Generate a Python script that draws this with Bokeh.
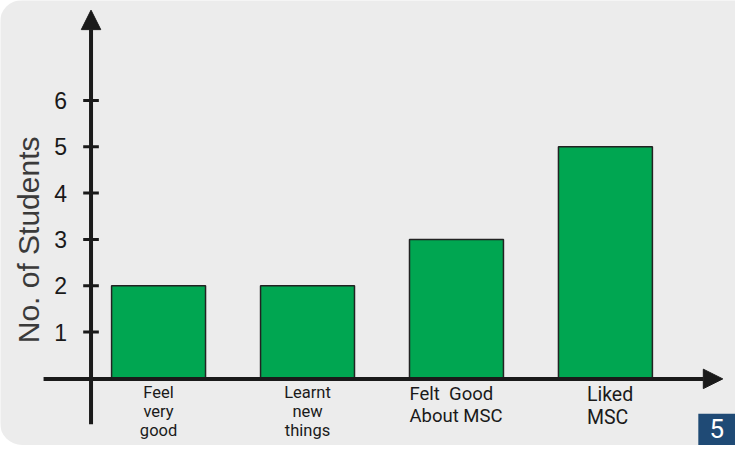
from math import pi
from bokeh.plotting import figure
from bokeh.models import Range1d, Arrow, NormalHead, BoxAnnotation, Label
from bokeh.embed import file_html
from bokeh.resources import INLINE
from bokeh.core.properties import value

# ---- data ----
categories = ["Feel\nvery\ngood", "Learnt\nnew\nthings", "Felt\u00a0\u00a0Good\nAbout MSC", "Liked\nMSC"]
students = [2, 2, 3, 5]
y_ticks = [1, 2, 3, 4, 5, 6]
y_tick_labels = ["1", "2", "3", "4", "5", "6"]
y_title = "No. of Students"
page_number = "5"

# ---- layout ----
W, H = 735, 445          # figure size
RW, RH = 751, 461        # design canvas
S = 0.973                # screen scale for px sizes
STEP = 152.2             # design px per category step
UNIT = 48.0              # design px per student
X0 = 161.5               # design px of first category centre
Y0 = 391.5               # design px (from top) of zero

BG = "#ececec"
INK = "#1a1a1a"
GREEN = "#00a651"


def ux(px):
    return (px - X0) / STEP


def uy(py):
    return (Y0 - py) / UNIT


p = figure(width=W, height=H, output_backend="svg", toolbar_location=None,
           x_range=Range1d(ux(0), ux(RW)), y_range=Range1d(uy(RH), uy(0)),
           min_border=0, x_axis_type=None, y_axis_type=None)
p.min_border_left = p.min_border_right = p.min_border_top = p.min_border_bottom = 0
p.grid.visible = False
p.outline_line_color = None
p.background_fill_color = BG
p.border_fill_color = BG
p.styles = {"border-radius": "22px 0 0 22px", "overflow": "hidden"}

xs = list(range(len(categories)))
p.vbar(x=xs, top=students, bottom=0, width=96 / STEP,
       fill_color=GREEN, line_color="#222222", line_width=1.5)

# axes with arrows
p.add_layout(Arrow(x_start=ux(44), y_start=uy(392), x_end=ux(738), y_end=uy(392),
                   line_width=4, line_color=INK,
                   end=NormalHead(size=20 * S, fill_color=INK, line_color=INK)))
p.add_layout(Arrow(x_start=ux(92.5), y_start=uy(439), x_end=ux(92.5), y_end=uy(10),
                   line_width=4, line_color=INK,
                   end=NormalHead(size=20 * S, fill_color=INK, line_color=INK)))

# ticks
p.segment(x0=[ux(84.5)] * len(y_ticks), x1=[ux(100.5)] * len(y_ticks),
          y0=y_ticks, y1=y_ticks, line_width=3, line_color=INK)

p.text(x=[ux(68)] * len(y_ticks), y=y_ticks, text=y_tick_labels,
       text_align="right", text_baseline="middle", text_font_size="23px",
       text_font=value("Liberation Sans"), text_color=INK)

p.text(x=[ux(29)], y=[uy(248)], text=[y_title], angle=pi / 2,
       text_align="center", text_baseline="middle", text_font_size="30px",
       text_font=value("Liberation Sans"), text_color="#3a3a3a")

label_style = [("center", 0, 16.5), ("center", 0, 16.5), ("left", -47, 18.5), ("left", -18.5, 19.5)]
for i, (cat, (align, off, size)) in enumerate(zip(categories, label_style)):
    p.text(x=[xs[i]], y=[uy(396)], text=[cat], text_align=align, x_offset=off,
           text_baseline="top", text_font_size=f"{size}px", text_font=value("Roboto"),
           text_line_height=1.0, text_color=INK)

p.add_layout(BoxAnnotation(left=ux(713), right=ux(770), top=uy(428), bottom=uy(480),
                           fill_color="#1f4a75", fill_alpha=1, line_color=None))
p.add_layout(Label(x=ux(732), y=uy(443), text=page_number, text_align="center",
                   text_baseline="middle", text_color="white", text_font_size="26px",
                   text_font="Roboto"))

open("out.html", "w").write(file_html(p, INLINE))
